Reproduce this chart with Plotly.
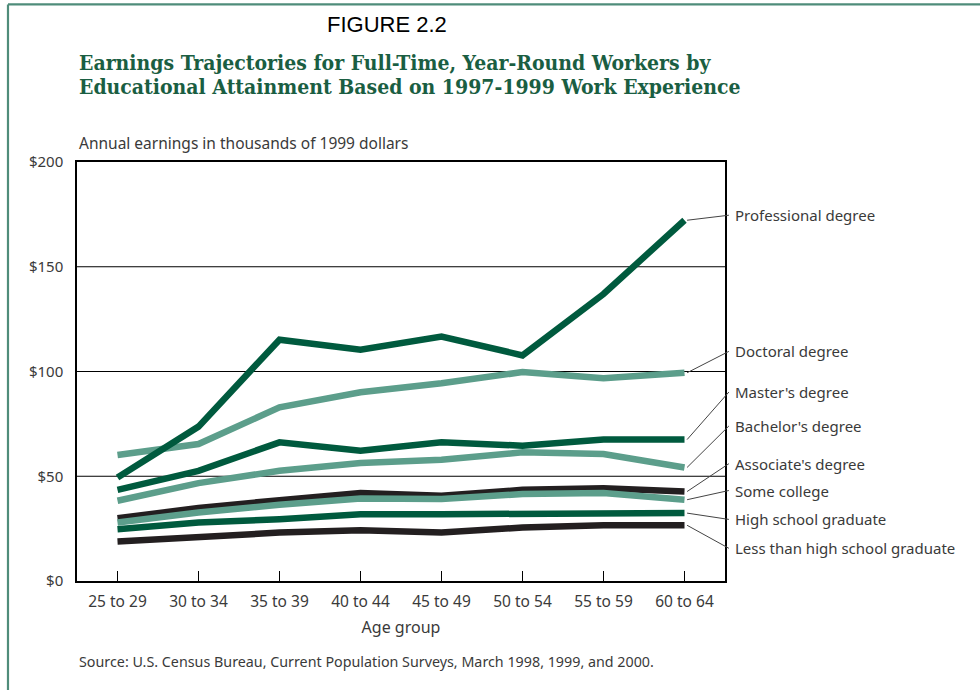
import plotly.graph_objects as go

# Age groups on the x axis
age_groups = ["25 to 29", "30 to 34", "35 to 39", "40 to 44",
              "45 to 49", "50 to 54", "55 to 59", "60 to 64"]

# Annual earnings, thousands of 1999 dollars
professional = [49.4, 73.7, 115.2, 110.4, 116.7, 107.7, 137.0, 172.2]
doctoral = [60.1, 65.4, 82.9, 90.1, 94.4, 99.7, 96.8, 99.4]
masters = [43.5, 52.6, 66.2, 62.2, 66.2, 64.6, 67.5, 67.5]
bachelors = [38.3, 46.7, 52.6, 56.3, 57.9, 61.4, 60.6, 54.2]
associates = [30.0, 34.8, 38.6, 42.0, 40.7, 43.5, 44.3, 42.7]
some_college = [27.9, 32.7, 36.4, 39.4, 39.1, 41.5, 42.0, 38.8]
high_school = [24.7, 27.9, 29.5, 31.9, 31.9, 31.9, 32.4, 32.4]
less_than_hs = [18.8, 21.1, 23.1, 24.2, 23.1, 25.5, 26.6, 26.6]

y_ticks = [0, 50, 100, 150, 200]

DARK = "#005a3e"
LIGHT = "#5c9e8b"
BLACK = "#231f20"
TEXT = "#3a3a3a"

# name, values, colour, label height (data units) for the right-hand label
series = [
    ("Doctoral degree", doctoral, LIGHT, 109.6),
    ("Professional degree", professional, DARK, 174.6),
    ("Bachelor's degree", bachelors, LIGHT, 74.0),
    ("Master's degree", masters, DARK, 90.2),
    ("Associate's degree", associates, BLACK, 56.0),
    ("Some college", some_college, LIGHT, 43.2),
    ("High school graduate", high_school, DARK, 29.4),
    ("Less than high school graduate", less_than_hs, BLACK, 15.6),
]

x_idx = list(range(len(age_groups)))
x_range = [-0.5, len(age_groups) - 0.5]

fig = go.Figure()
for name, vals, color, _ in series:
    fig.add_trace(go.Scatter(
        x=x_idx, y=vals, mode="lines", name=name,
        line=dict(color=color, width=6.5),
        showlegend=False, hoverinfo="skip",
    ))

shapes = []
annotations = []

# Horizontal reference lines at $50, $100, $150
for v in y_ticks[1:-1]:
    shapes.append(dict(type="line", xref="x domain", yref="y",
                       x0=0, x1=1, y0=v, y1=v,
                       line=dict(color="black", width=1.2), layer="below"))

# Leader lines and labels on the right
last_x = (x_idx[-1] - x_range[0]) / (x_range[1] - x_range[0])
for name, vals, color, label_y in series:
    shapes.append(dict(type="line", xref="x domain", yref="y",
                       x0=last_x + 0.004, y0=vals[-1], x1=1.006, y1=label_y,
                       line=dict(color="#444444", width=1)))
    annotations.append(dict(xref="x domain", yref="y", x=1.012, y=label_y,
                            text=name, showarrow=False, xanchor="left",
                            yanchor="middle",
                            font=dict(family="Noto Sans", size=15, color=TEXT)))

# Outer frame
shapes.append(dict(type="line", xref="paper", yref="paper",
                   x0=-0.1065, x1=1.6, y0=1.376, y1=1.376,
                   line=dict(color="#4f8c7a", width=2.2)))
shapes.append(dict(type="line", xref="paper", yref="paper",
                   x0=-0.1065, x1=-0.1065, y0=-0.3, y1=1.376,
                   line=dict(color="#4f8c7a", width=2.2)))

# Heading texts
title_font = dict(family="DejaVu Serif Condensed, DejaVu Serif", size=21,
                  color="#1a5e42")
annotations += [
    dict(xref="paper", yref="paper", x=0.478, y=1.328, text="FIGURE 2.2",
         showarrow=False, xanchor="center", yanchor="middle",
         font=dict(family="Liberation Sans", size=22, color="black")),
    dict(xref="paper", yref="paper", x=0.0, y=1.2375,
         text="<b>Earnings Trajectories for Full-Time, Year-Round Workers by</b>",
         showarrow=False, xanchor="left", yanchor="middle", font=title_font),
    dict(xref="paper", yref="paper", x=0.0, y=1.180,
         text="<b>Educational Attainment Based on 1997-1999 Work Experience</b>",
         showarrow=False, xanchor="left", yanchor="middle", font=title_font),
    dict(xref="paper", yref="paper", x=0.0, y=1.045,
         text="Annual earnings in thousands of 1999 dollars",
         showarrow=False, xanchor="left", yanchor="middle",
         font=dict(family="Noto Sans", size=15.5, color=TEXT)),
    dict(xref="paper", yref="paper", x=0.0, y=-0.193,
         text="Source: U.S. Census Bureau, Current Population Surveys, March 1998, 1999, and 2000.",
         showarrow=False, xanchor="left", yanchor="middle",
         font=dict(family="Noto Sans", size=14.3, color=TEXT)),
]

fig.update_layout(
    width=980, height=690,
    margin=dict(l=77, r=255, t=162, b=109),
    paper_bgcolor="white", plot_bgcolor="white",
    shapes=shapes, annotations=annotations,
    font=dict(family="Noto Sans", size=14, color=TEXT),
)

fig.update_xaxes(
    range=x_range, tickmode="array", tickvals=x_idx, ticktext=age_groups,
    ticks="inside", ticklen=10, tickwidth=1.2, tickcolor="black",
    ticklabelstandoff=6,
    showline=True, linecolor="black", linewidth=1.5, mirror=True,
    showgrid=False, zeroline=False,
    title=dict(text="Age group", standoff=10,
               font=dict(family="Noto Sans", size=16, color=TEXT)),
    tickfont=dict(family="Noto Sans", size=15.5, color=TEXT),
)
fig.update_yaxes(
    range=[0, 200], tickmode="array", tickvals=y_ticks,
    ticktext=["$" + str(v) for v in y_ticks],
    ticks="", ticklabelstandoff=9,
    showline=True, linecolor="black", linewidth=1.5, mirror=True,
    showgrid=False, zeroline=False,
    tickfont=dict(family="Noto Sans", size=15, color=TEXT),
)

fig.write_html("out.html")
